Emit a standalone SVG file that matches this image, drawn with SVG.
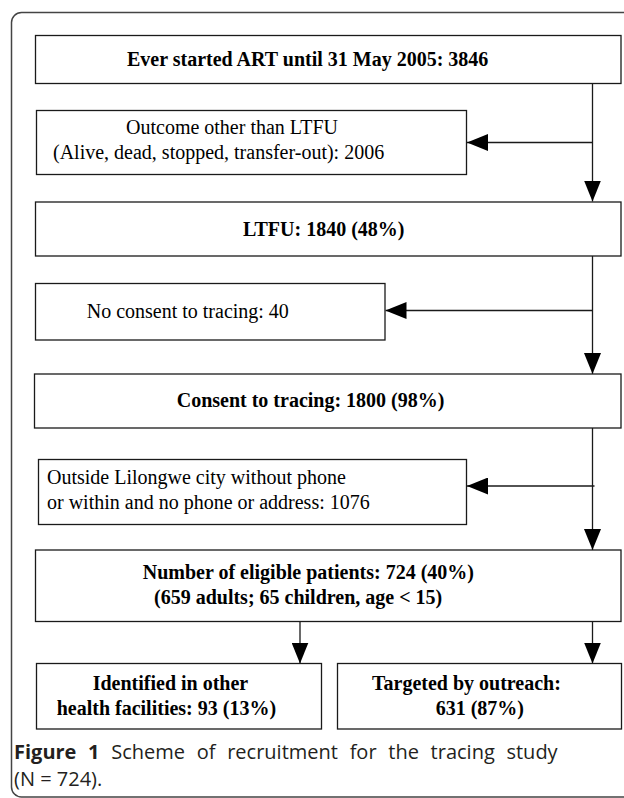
<svg xmlns="http://www.w3.org/2000/svg" width="624" height="798" viewBox="0 0 624 798">
<defs>
<style>
.box{fill:#fff;stroke:#1a1a1a;stroke-width:1.3}
.t{font-family:"Liberation Serif","Times New Roman",serif;font-size:20px;fill:#000}
.b{font-weight:bold}
.con{fill:none;stroke:#1a1a1a;stroke-width:1.3}
.cap{font-family:"Open Sans","Noto Sans",sans-serif;font-size:20px;fill:#231f20}
</style>
<marker id="ah" viewBox="0 0 21 17" refX="21" refY="8.5" markerWidth="21" markerHeight="17" markerUnits="userSpaceOnUse" orient="auto">
<path d="M0,0 L21,8.5 L0,17 Z" fill="#000"/>
</marker>
</defs>
<rect width="624" height="798" fill="#fff"/>
<path d="M624,12.5 H21.5 A10,10 0 0 0 11.5,22.5 V787 A10,10 0 0 0 21.5,797 H624" fill="none" stroke="#444" stroke-width="1.5"/>
<g id="connectors">
<path class="con" d="M592.5,83.5 V201.5" marker-end="url(#ah)"/>
<path class="con" d="M592.5,142.5 H467" marker-end="url(#ah)"/>
<path class="con" d="M592.5,256 V374" marker-end="url(#ah)"/>
<path class="con" d="M592.5,310.5 H385.5" marker-end="url(#ah)"/>
<path class="con" d="M592.5,428 V550" marker-end="url(#ah)"/>
<path class="con" d="M594.5,486 H467" marker-end="url(#ah)"/>
<path class="con" d="M300,621.5 V663.5" marker-end="url(#ah)"/>
<path class="con" d="M592.5,621.5 V663.5" marker-end="url(#ah)"/>
</g>
<g id="n1">
<rect class="box" x="35.5" y="35.5" width="585.5" height="48"/>
<text class="t b" x="127" y="66">Ever started ART until 31 May 2005: 3846</text>
</g>
<g id="n2">
<rect class="box" x="36.5" y="110.5" width="430" height="64"/>
<text class="t" x="126" y="134">Outcome other than LTFU</text>
<text class="t" x="53" y="159">(Alive, dead, stopped, transfer-out): 2006</text>
</g>
<g id="n3">
<rect class="box" x="35.5" y="202" width="585.5" height="54"/>
<text class="t b" x="243" y="236">LTFU: 1840 (48%)</text>
</g>
<g id="n4">
<rect class="box" x="35.5" y="283.5" width="349.5" height="56.5"/>
<text class="t" x="86.7" y="318">No consent to tracing: 40</text>
</g>
<g id="n5">
<rect class="box" x="34.5" y="374" width="586.5" height="54"/>
<text class="t b" x="176.7" y="407">Consent to tracing: 1800 (98%)</text>
</g>
<g id="n6">
<rect class="box" x="38.5" y="459.5" width="428" height="65"/>
<text class="t" x="47" y="484">Outside Lilongwe city without phone</text>
<text class="t" x="47" y="509">or within and no phone or address: 1076</text>
</g>
<g id="n7">
<rect class="box" x="35.5" y="550" width="585.5" height="71.5"/>
<text class="t b" x="142.7" y="579">Number of eligible patients: 724 (40%)</text>
<text class="t b" x="154" y="604">(659 adults; 65 children, age &lt; 15)</text>
</g>
<g id="n8">
<rect class="box" x="36.5" y="663.5" width="285" height="65.5"/>
<text class="t b" x="92.7" y="689.5">Identified in other</text>
<text class="t b" x="56.7" y="714.5">health facilities: 93 (13%)</text>
</g>
<g id="n9">
<rect class="box" x="337.5" y="663.5" width="284" height="65.5"/>
<text class="t b" x="372" y="689.5">Targeted by outreach:</text>
<text class="t b" x="435.7" y="714.5">631 (87%)</text>
</g>
<g id="caption">
<text class="cap" x="14" y="759" word-spacing="6.5"><tspan font-weight="bold">Figure 1</tspan> Scheme of recruitment for the tracing study</text>
<text class="cap" x="14" y="786">(N = 724).</text>
</g>
</svg>
